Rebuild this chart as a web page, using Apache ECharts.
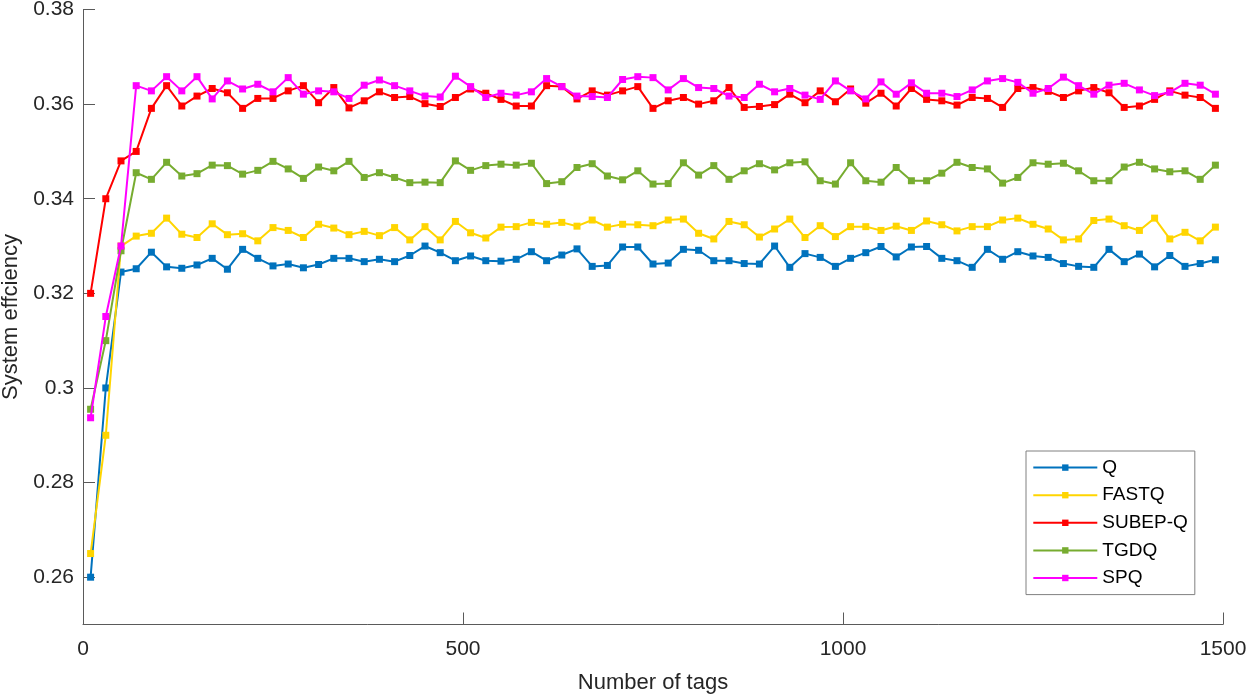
<!DOCTYPE html>
<html>
<head>
<meta charset="utf-8">
<script src="https://cdn.jsdelivr.net/npm/echarts@6/dist/echarts.min.js"></script>
<style>
html,body{margin:0;padding:0;background:#fff;}
#chart{width:1250px;height:698px;}
</style>
</head>
<body>
<div id="chart"></div>
<script>
const xValues = [10,30,50,70,90,110,130,150,170,190,210,230,250,270,290,310,330,350,370,390,410,430,450,470,490,510,530,550,570,590,610,630,650,670,690,710,730,750,770,790,810,830,850,870,890,910,930,950,970,990,1010,1030,1050,1070,1090,1110,1130,1150,1170,1190,1210,1230,1250,1270,1290,1310,1330,1350,1370,1390,1410,1430,1450,1470,1490];

const qValues = [0.260,0.300,0.3245,0.3252,0.3287,0.3256,0.3253,0.3260,0.3274,0.3251,0.3293,0.3274,0.3258,0.3262,0.3254,0.3261,0.3274,0.3274,0.3267,0.3272,0.3267,0.3280,0.3300,0.3286,0.3269,0.3279,0.3269,0.3268,0.3272,0.3288,0.3269,0.3281,0.3294,0.3257,0.3259,0.3298,0.3298,0.3262,0.3264,0.3293,0.3291,0.3269,0.3269,0.3263,0.3262,0.3300,0.3255,0.3284,0.3276,0.3257,0.3274,0.3286,0.3299,0.3277,0.3298,0.3299,0.3274,0.3269,0.3255,0.3293,0.3272,0.3288,0.3279,0.3276,0.3263,0.3257,0.3255,0.3293,0.3267,0.3283,0.3256,0.3280,0.3257,0.3263,0.3271];

const fastqValues = [0.265,0.290,0.330,0.3321,0.3327,0.3359,0.3325,0.3318,0.3347,0.3324,0.3326,0.3311,0.3339,0.3333,0.3318,0.3346,0.3338,0.3324,0.3331,0.3322,0.3339,0.3313,0.3341,0.3313,0.3352,0.3328,0.3317,0.3340,0.3341,0.3350,0.3346,0.3350,0.3342,0.3355,0.3340,0.3346,0.3345,0.3343,0.3355,0.3357,0.3327,0.3315,0.3352,0.3345,0.3319,0.3336,0.3357,0.3318,0.3343,0.3320,0.3341,0.3341,0.3333,0.3342,0.3333,0.3353,0.3345,0.3332,0.3341,0.3341,0.3355,0.3359,0.3346,0.3336,0.3313,0.3315,0.3354,0.3357,0.3343,0.3333,0.3359,0.3315,0.3329,0.3311,0.3340];

const subepqValues = [0.320,0.340,0.348,0.350,0.3591,0.3639,0.3596,0.3617,0.3633,0.3624,0.3591,0.3612,0.3612,0.3628,0.3639,0.3603,0.3635,0.3592,0.3607,0.3626,0.3614,0.3616,0.3601,0.3595,0.3614,0.3632,0.3623,0.3610,0.3596,0.3596,0.3639,0.3637,0.3611,0.3628,0.3619,0.3628,0.3637,0.3591,0.3607,0.3614,0.3600,0.3607,0.3635,0.3593,0.3595,0.3599,0.3621,0.3603,0.3628,0.3605,0.3632,0.3602,0.3623,0.3596,0.3633,0.3610,0.3607,0.3598,0.3614,0.3612,0.3593,0.3633,0.3635,0.3627,0.3614,0.3628,0.3635,0.3624,0.3593,0.3596,0.3610,0.3628,0.3619,0.3614,0.3591];

const tgdqValues = [0.2955,0.310,0.329,0.3455,0.3441,0.3477,0.3448,0.3453,0.3471,0.3470,0.3452,0.3460,0.3479,0.3463,0.3443,0.3467,0.3459,0.3479,0.3445,0.3455,0.3445,0.3434,0.3435,0.3434,0.3480,0.3460,0.3470,0.3473,0.3471,0.3475,0.3432,0.3436,0.3466,0.3474,0.3448,0.3440,0.3459,0.3431,0.3432,0.3476,0.3450,0.3470,0.3441,0.3459,0.3474,0.3461,0.3476,0.3478,0.3438,0.3431,0.3476,0.3438,0.3435,0.3466,0.3438,0.3438,0.3454,0.3477,0.3466,0.3463,0.3433,0.3445,0.3476,0.3473,0.3475,0.3459,0.3438,0.3438,0.3467,0.3477,0.3463,0.3457,0.3459,0.3441,0.3471];

const spqValues = [0.2937,0.3151,0.330,0.3639,0.3628,0.3658,0.3628,0.3658,0.3611,0.3649,0.3632,0.3642,0.3626,0.3656,0.3621,0.3628,0.3626,0.3612,0.3640,0.3651,0.3639,0.3628,0.3617,0.3615,0.3659,0.3637,0.3614,0.3623,0.3619,0.3626,0.3654,0.3637,0.3617,0.3616,0.3614,0.3652,0.3658,0.3656,0.3630,0.3654,0.3635,0.3633,0.3617,0.3614,0.3642,0.3626,0.3633,0.3619,0.3610,0.3649,0.3628,0.3611,0.3647,0.3621,0.3645,0.3623,0.3623,0.3616,0.3630,0.3649,0.3654,0.3646,0.3623,0.3633,0.3657,0.3639,0.3621,0.3640,0.3644,0.3630,0.3618,0.3625,0.3644,0.3640,0.3621];

const seriesNames = ['Q','FASTQ','SUBEP-Q','TGDQ','SPQ'];
const seriesColors = ['#0072BD','#FFD500','#FF0000','#77AC30','#FF00FF'];
const yTickValues = [0.26,0.28,0.30,0.32,0.34,0.36,0.38];

const allValues = [qValues, fastqValues, subepqValues, tgdqValues, spqValues];
const FONT = '"Liberation Sans", Arial, Helvetica, sans-serif';

const chart = echarts.init(document.getElementById('chart'), null, {renderer:'canvas'});
const series = seriesNames.map((name,i)=>({
  name: name,
  type: 'line',
  data: xValues.map((x,j)=>[x, allValues[i][j]]),
  symbol: 'rect',
  symbolSize: 7,
  showSymbol: true,
  animation: false,
  lineStyle: {color: seriesColors[i], width: 2},
  itemStyle: {color: seriesColors[i]},
  emphasis: {disabled: true},
  z: 2 + i
}));

chart.setOption({
  backgroundColor: '#ffffff',
  animation: false,
  textStyle: {fontFamily: FONT},
  grid: {left: 83, right: 27, top: 9.5, bottom: 73.5, containLabel: false, outerBoundsMode: 'none'},
  legend: {
    orient: 'vertical',
    left: 1026,
    top: 451,
    data: seriesNames,
    itemWidth: 64,
    itemHeight: 8,
    itemGap: 7.6,
    padding: [6.6, 7, 6.6, 6.3],
    borderColor: '#808080',
    borderWidth: 1,
    backgroundColor: '#ffffff',
    textStyle: {fontSize: 19, color: '#000', lineHeight: 20, fontFamily: FONT},
    selectedMode: false
  },
  xAxis: {
    type: 'value',
    min: 0, max: 1500, interval: 500,
    name: 'Number of tags',
    nameLocation: 'middle',
    nameGap: 47,
    nameTextStyle: {fontSize: 22, color: '#262626', fontFamily: FONT},
    axisLine: {show: true, lineStyle: {color: '#5a5a5a', width: 1}},
    axisTick: {show: true, inside: true, length: 12, lineStyle: {color: '#5a5a5a'}},
    axisLabel: {fontSize: 21, color: '#262626', margin: 14, fontFamily: FONT, formatter: v => String(v)},
    splitLine: {show: false}
  },
  yAxis: {
    type: 'value',
    min: 0.25, max: 0.38,
    name: 'System effciency',
    nameLocation: 'middle',
    nameGap: 49,
    nameRotate: 90,
    nameTextStyle: {fontSize: 22, color: '#262626', fontFamily: FONT},
    axisLine: {show: true, lineStyle: {color: '#5a5a5a', width: 1}},
    axisTick: {show: true, inside: true, length: 12, lineStyle: {color: '#5a5a5a'}, customValues: yTickValues},
    axisLabel: {fontSize: 21, color: '#262626', margin: 9, fontFamily: FONT, customValues: yTickValues,
      formatter: v => String(parseFloat(v.toFixed(2)))},
    splitLine: {show: false}
  },
  series: series
});
</script>
</body>
</html>
